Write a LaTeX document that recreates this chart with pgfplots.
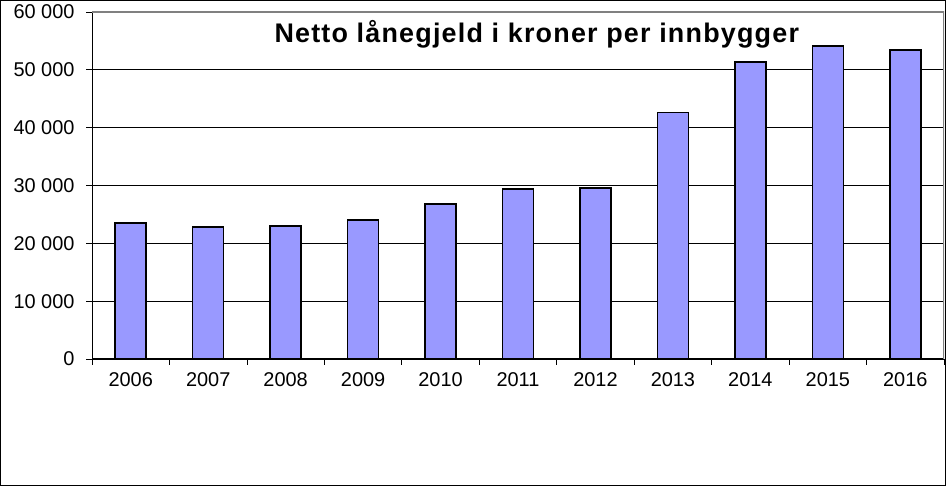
\documentclass[border=0pt]{standalone}
\usepackage{fontspec}
\setmainfont{Liberation Sans}
\newfontfamily\titlefont[LetterSpace=4.5]{Liberation Sans}
\usepackage{pgfplots}
\pgfplotsset{compat=1.18}
\definecolor{barblue}{HTML}{9999FF}
\definecolor{bordergray}{HTML}{808080}
\begin{document}
\begin{tikzpicture}[x=1bp,y=1bp]
\useasboundingbox (0,0) rectangle (946,486);
\draw[black, line width=1.2bp] (0.6,0.6) rectangle (945.4,485.4);
\begin{axis}[
  at={(92bp,127bp)}, anchor=south west, scale only axis,
  width=852bp, height=347bp,
  xmin=-0.5, xmax=10.5, ymin=0, ymax=60000,
  axis x line*=bottom, axis y line*=left,
  axis line style={black, line width=1bp, -},
  ybar, bar width=31bp,
  ytick={0,10000,...,60000},
  scaled y ticks=false,
  /pgf/number format/1000 sep={\ },
  /pgf/number format/assume math mode=true,
  ymajorgrids, grid style={black, line width=0.8bp},
  xtick={0,...,10},
  xticklabels={2006,2007,2008,2009,2010,2011,2012,2013,2014,2015,2016},
  minor xtick={-0.5,0.5,...,10.5},
  every major x tick/.style={draw=none},
  every minor x tick/.style={black, line width=0.8bp},
  every major y tick/.style={black, line width=0.8bp},
  major tick length=6bp, minor tick length=6bp,
  tick align=outside, xtick pos=bottom, ytick pos=left,
  tick label style={font=\fontsize{20}{24}\selectfont},
  xticklabel style={yshift=-4bp},
  yticklabel style={xshift=-8bp},
]
\addplot[fill=barblue, draw=black, line width=1.6bp] coordinates {
  (0,23500) (1,22800) (2,23000) (3,24000) (4,26800) (5,29400)
  (6,29600) (7,42600) (8,51400) (9,54100) (10,53400)
};
\draw[bordergray, line width=1.5bp] (rel axis cs:0,1) -- (rel axis cs:1,1) -- (rel axis cs:1,0);
\node[anchor=base, inner sep=0pt] at (rel axis cs:0.522,0.9135) {\titlefont\fontsize{27}{31}\selectfont\bfseries Netto lånegjeld i kroner per innbygger};
\end{axis}
\end{tikzpicture}
\end{document}
